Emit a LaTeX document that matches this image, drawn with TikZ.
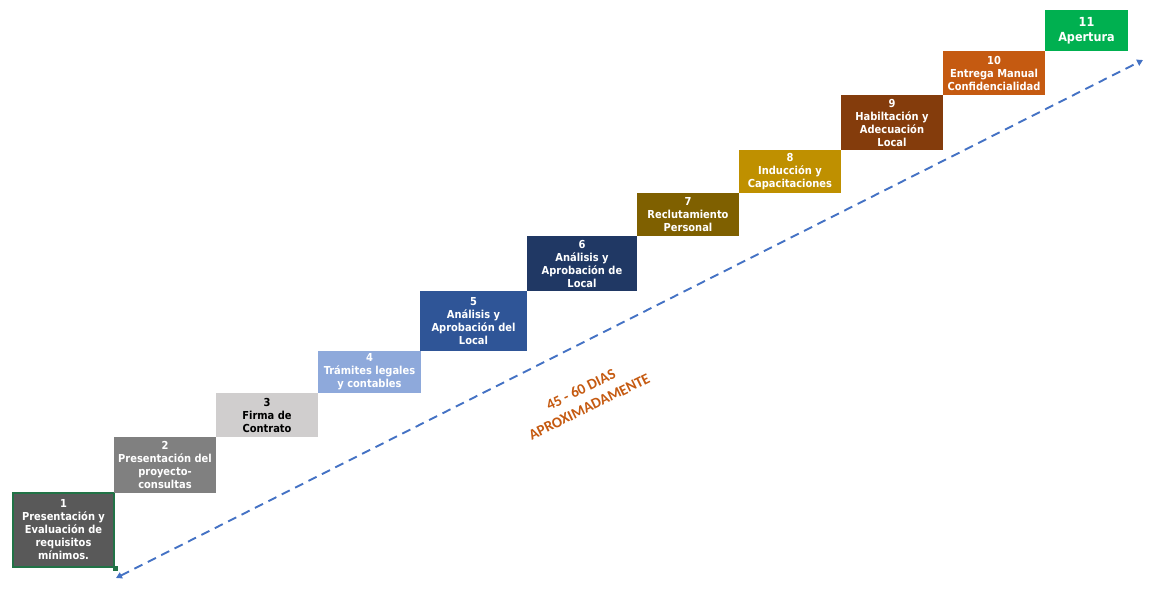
\documentclass[tikz,border=0pt]{standalone}
\usepackage{fontspec}
\newfontfamily\boxfont{DejaVu Sans Condensed}
\newfontfamily\notefont{Carlito}
\usetikzlibrary{arrows.meta}
\definecolor{cA}{HTML}{595959}
\definecolor{cB}{HTML}{808080}
\definecolor{cC}{HTML}{D0CECE}
\definecolor{cD}{HTML}{8EA9DB}
\definecolor{cE}{HTML}{2F5597}
\definecolor{cF}{HTML}{203864}
\definecolor{cG}{HTML}{7F6000}
\definecolor{cH}{HTML}{BF9000}
\definecolor{cI}{HTML}{843C0C}
\definecolor{cJ}{HTML}{C55A11}
\definecolor{cK}{HTML}{00B050}
\definecolor{selgreen}{HTML}{217346}
\definecolor{arrowblue}{HTML}{4472C4}
\tikzset{
  stepbox/.style={draw=none, inner sep=1pt, align=center, text=white,
    font=\boxfont\bfseries\fontsize{11}{13}\selectfont},
  timeline/.style={draw=arrowblue, line width=1.9pt, dash pattern=on 9pt off 6pt,
    {Triangle[length=6pt,width=6.5pt]}-{Triangle[length=6pt,width=6.5pt]}},
  note/.style={text=cJ, align=center, font=\notefont\bfseries\fontsize{15}{19}\selectfont}
}
\begin{document}
\begin{tikzpicture}[x=1pt,y=-1pt]
\useasboundingbox (0,0) rectangle (1158,592);
\node[stepbox, fill=cA, draw=selgreen, line width=2pt, minimum width=101pt, minimum height=74pt] (s1) at (63.5,530) {1\\Presentación y\\Evaluación de\\requisitos\\mínimos.};
\node[fill=selgreen, minimum size=5pt, inner sep=0pt] (h1) at (s1.south east) {};
\node[stepbox, fill=cB, minimum width=102pt, minimum height=56pt] (s2) at (165,465) {2\\Presentación del\\proyecto-\\consultas};
\node[stepbox, fill=cC, text=black, minimum width=102pt, minimum height=44pt] (s3) at (267,415) {3\\Firma de\\Contrato};
\node[stepbox, fill=cD, minimum width=103pt, minimum height=42pt] (s4) at (369.5,372) {4\\Trámites legales\\y contables};
\node[stepbox, fill=cE, minimum width=107pt, minimum height=60pt] (s5) at (473.5,321) {5\\Análisis y\\Aprobación del\\Local};
\node[stepbox, fill=cF, minimum width=110pt, minimum height=55pt] (s6) at (582,263.5) {6\\Análisis y\\Aprobación de\\Local};
\node[stepbox, fill=cG, minimum width=102pt, minimum height=43pt] (s7) at (688,214.5) {7\\Reclutamiento\\Personal};
\node[stepbox, fill=cH, minimum width=102pt, minimum height=43pt] (s8) at (790,171.5) {8\\Inducción y\\Capacitaciones};
\node[stepbox, fill=cI, minimum width=102pt, minimum height=55pt] (s9) at (892,122.5) {9\\Habiltación y\\Adecuación\\Local};
\node[stepbox, fill=cJ, minimum width=102pt, minimum height=44pt] (s10) at (994,73) {10\\Entrega Manual\\Confidencialidad};
\node[stepbox, fill=cK, minimum width=83pt, minimum height=41pt, font=\boxfont\bfseries\fontsize{12.5}{15}\selectfont] (s11) at (1086.5,30.5) {11\\Apertura};
\coordinate (tStart) at (1143,60);
\coordinate (tEnd) at (116,578);
\draw[timeline] (tEnd) -- (tStart);
\node[note, rotate=26] (days) at (585,398) {45 - 60 DIAS\\APROXIMADAMENTE};
\end{tikzpicture}
\end{document}
